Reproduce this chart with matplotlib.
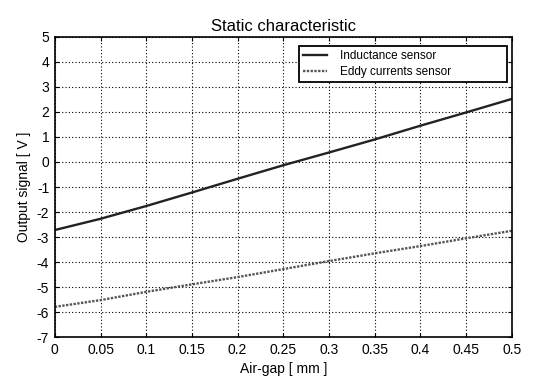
import matplotlib
matplotlib.use("Agg")
import matplotlib.pyplot as plt
import numpy as np

# values
air_gap = [0.0, 0.05, 0.1, 0.15, 0.2, 0.25, 0.3, 0.35, 0.4, 0.45, 0.5]
inductance = [-2.72, -2.27, -1.76, -1.22, -0.67, -0.13, 0.38, 0.9, 1.45, 1.98, 2.52]
eddy = [-5.79, -5.52, -5.19, -4.89, -4.6, -4.28, -3.96, -3.65, -3.36, -3.05, -2.75]

plt.rcParams['font.family'] = ['Liberation Sans', 'DejaVu Sans']
plt.rcParams['axes.unicode_minus'] = False

fig = plt.figure(figsize=(5.48, 3.84), dpi=100)
ax = fig.add_axes([0.1, 0.122, 0.834, 0.782])

ax.plot(air_gap, inductance, color='#222222', linewidth=1.7, label='Inductance sensor')
ax.plot(air_gap, eddy, color='#555555', linewidth=1.7, linestyle=(0, (1, 0.6)),
        label='Eddy currents sensor')

ax.set_xlim(0, 0.5)
ax.set_ylim(-7, 5)
ax.set_xticks(np.arange(0, 0.51, 0.05))
ax.set_xticklabels(['0', '0.05', '0.1', '0.15', '0.2', '0.25', '0.3', '0.35', '0.4', '0.45', '0.5'])
ax.set_yticks(range(-7, 6))
ax.tick_params(labelsize=10, direction='in', length=3, top=True, right=True, pad=4)
ax.grid(True, color='black', linestyle=(0, (1, 2)), linewidth=0.8)
for s in ax.spines.values():
    s.set_linewidth(1.2)

ax.set_title('Static characteristic', fontsize=12, pad=4)
ax.set_xlabel('Air-gap [ mm ]', fontsize=10)
ax.set_ylabel('Output signal [ V ]', fontsize=10)

# legend box stretched like the MATLAB one
leg = ax.legend(loc='upper left', bbox_to_anchor=(0.534, 0.85, 0.455, 0.12), mode='expand',
                fontsize=8.5, fancybox=False, framealpha=1, edgecolor='black',
                handlelength=2.0, borderpad=0.35, labelspacing=0.35, handletextpad=1.1,
                borderaxespad=0)
leg.get_frame().set_linewidth(1.3)

plt.savefig('out.png', dpi=100)
